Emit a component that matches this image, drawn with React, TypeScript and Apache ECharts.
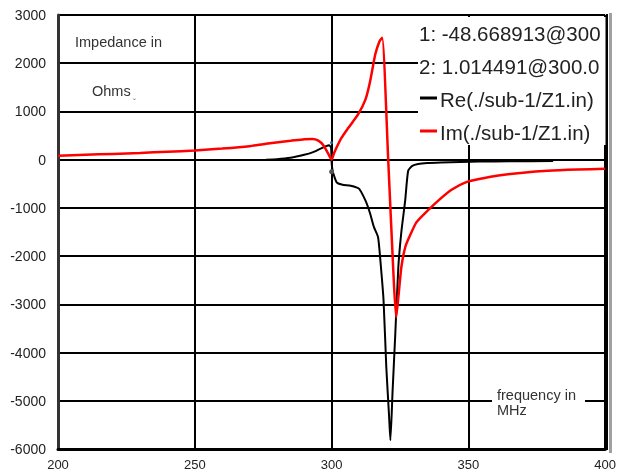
import React, { useEffect, useRef } from "react";
import * as echarts from "echarts";

const imFreq = [200, 210, 220, 230, 240, 250, 260, 270, 276, 285, 290, 293, 295, 297, 299, 300, 301, 303.6, 306, 309.8, 312.4, 314, 316, 317.5, 318.5, 320.7, 322.5, 323.6, 324.5, 325.5, 327, 329, 331, 334, 339, 344, 349, 355, 361, 370, 379, 390, 400];
const imVal = [80, 100, 120, 140, 165, 190, 230, 280, 330, 390, 425, 430, 400, 300, 100, 1, 150, 450, 650, 950, 1250, 1600, 2190, 2450, 2530, 0, -2230, -3270, -2800, -2230, -1800, -1530, -1300, -1120, -850, -620, -470, -390, -330, -270, -230, -205, -190];

const reFreq = [276, 280, 285, 290, 293, 296, 299, 299.8, 300, 300.3, 301, 302, 304, 307, 310, 312.4, 314, 315.5, 317, 318, 319, 320, 321, 321.5, 322.3, 323.3, 324.4, 325.5, 326.9, 328, 329.5, 331.6, 335, 340, 354, 365, 381];
const reVal = [0, 10, 40, 100, 150, 230, 300, 250, -48.67, -200, -350, -480, -520, -540, -600, -850, -1100, -1400, -1610, -2200, -2920, -4300, -5300, -5820, -4800, -3600, -2230, -1500, -850, -230, -130, -90, -70, -60, -40, -35, -30];

const xMin = 200, xMax = 400, xStep = 50;
const yMin = -6000, yMax = 3000, yStep = 1000;

const markerLines = ["1: -48.668913@300", "2: 1.014491@300.0"];
const markerFreq = 300;
const legendNames = ["Re(./sub-1/Z1.in)", "Im(./sub-1/Z1.in)"];
const legendColors = ["#000000", "#ff0000"];

export default function App() {
  const ref = useRef<HTMLDivElement>(null);
  useEffect(() => {
    if (!ref.current) return;
    const chart = echarts.init(ref.current, null, { renderer: "svg" });
    const font = "Liberation Sans, Arial, sans-serif";
    const pairs = (xs: number[], ys: number[]) => xs.map((x, i) => [x, ys[i]]);
    const lf = `20.5px ${font}`;
    const graphics: any[] = [
      { type: "rect", z: 20, shape: { x: 418, y: 17, width: 187.5, height: 128 }, style: { fill: "#fff" } },
      { type: "text", z: 21, x: 419, y: 33, style: { text: markerLines[0], font: lf, fill: "#222", textVerticalAlign: "middle" } },
      { type: "text", z: 21, x: 419, y: 66, style: { text: markerLines[1], font: lf, fill: "#222", textVerticalAlign: "middle" } },
      { type: "line", z: 21, shape: { x1: 420, y1: 98, x2: 437, y2: 98 }, style: { stroke: legendColors[0], lineWidth: 3 } },
      { type: "text", z: 21, x: 440, y: 99, style: { text: legendNames[0], font: lf, fill: "#222", textVerticalAlign: "middle" } },
      { type: "line", z: 21, shape: { x1: 420, y1: 131, x2: 437, y2: 131 }, style: { stroke: legendColors[1], lineWidth: 3 } },
      { type: "text", z: 21, x: 440, y: 132, style: { text: legendNames[1], font: lf, fill: "#222", textVerticalAlign: "middle" } },
      { type: "rect", z: 22, shape: { x: 608, y: 0, width: 11, height: 454 }, style: { fill: "#fff" } },
      { type: "line", z: 23, shape: { x1: 607, y1: 14, x2: 607, y2: 450 }, style: { stroke: "#000", lineWidth: 2 } },
      { type: "rect", z: 23, shape: { x: 609, y: 13, width: 3, height: 440 }, style: { fill: "#a0a0a0" } },
      { type: "rect", z: 20, shape: { x: 492, y: 385, width: 93, height: 34 }, style: { fill: "#fff" } },
      { type: "text", z: 21, x: 497, y: 395, style: { text: "frequency in", font: `14.5px ${font}`, fill: "#333", textVerticalAlign: "middle" } },
      { type: "text", z: 21, x: 497, y: 410, style: { text: "MHz", font: `14.5px ${font}`, fill: "#333", textVerticalAlign: "middle" } },
      { type: "text", z: 21, x: 75, y: 42, style: { text: "Impedance in", font: `14.5px ${font}`, fill: "#333", textVerticalAlign: "middle" } },
      { type: "text", z: 21, x: 92, y: 91, style: { text: "Ohms", font: `14.5px ${font}`, fill: "#333", textVerticalAlign: "middle" } },
      { type: "text", z: 21, x: 133, y: 95, style: { text: "\u02EC", font: `9px ${font}`, fill: "#4a6fa5", textVerticalAlign: "middle" } },
    ];
    chart.setOption({
      animation: false,
      grid: { left: 58, right: 12, top: 15, bottom: 26 },
      xAxis: {
        type: "value",
        min: xMin,
        max: xMax,
        interval: xStep,
        axisLine: { show: true, onZero: false, lineStyle: { color: "#000", width: 3 } },
        axisTick: { show: false },
        axisLabel: { fontFamily: font, fontSize: 13, color: "#222", margin: 9 },
        splitLine: { show: true, lineStyle: { color: "#000", width: 2 } },
      },
      yAxis: {
        type: "value",
        min: yMin,
        max: yMax,
        interval: yStep,
        axisLine: { show: true, onZero: false, lineStyle: { color: "#333", width: 3 } },
        axisTick: { show: false },
        axisLabel: { fontFamily: font, fontSize: 14, color: "#222", margin: 12, formatter: (v: number) => String(v) },
        splitLine: { show: true, lineStyle: { color: "#000", width: 2 } },
      },
      series: [
        {
          type: "line",
          name: legendNames[0],
          data: pairs(reFreq, reVal),
          showSymbol: false,
          smooth: 0.2,
          lineStyle: { color: legendColors[0], width: 2 },
          z: 3,
          markPoint: {
            silent: true,
            label: { show: false },
            data: [
              { coord: [markerFreq, -250], symbol: "circle", symbolSize: 5, itemStyle: { color: "#555" } },
              { coord: [markerFreq, 350], symbol: "circle", symbolSize: 3, itemStyle: { color: "#2a5a9a" } },
            ],
          },
        },
        {
          type: "line",
          name: legendNames[1],
          data: pairs(imFreq, imVal),
          showSymbol: false,
          smooth: 0.2,
          lineStyle: { color: legendColors[1], width: 2.5 },
          z: 4,
        },
      ],
      graphic: graphics,
    });
    return () => chart.dispose();
  }, []);
  return <div ref={ref} style={{ position: "fixed", left: 0, top: 0, width: 619, height: 475 }} />;
}
